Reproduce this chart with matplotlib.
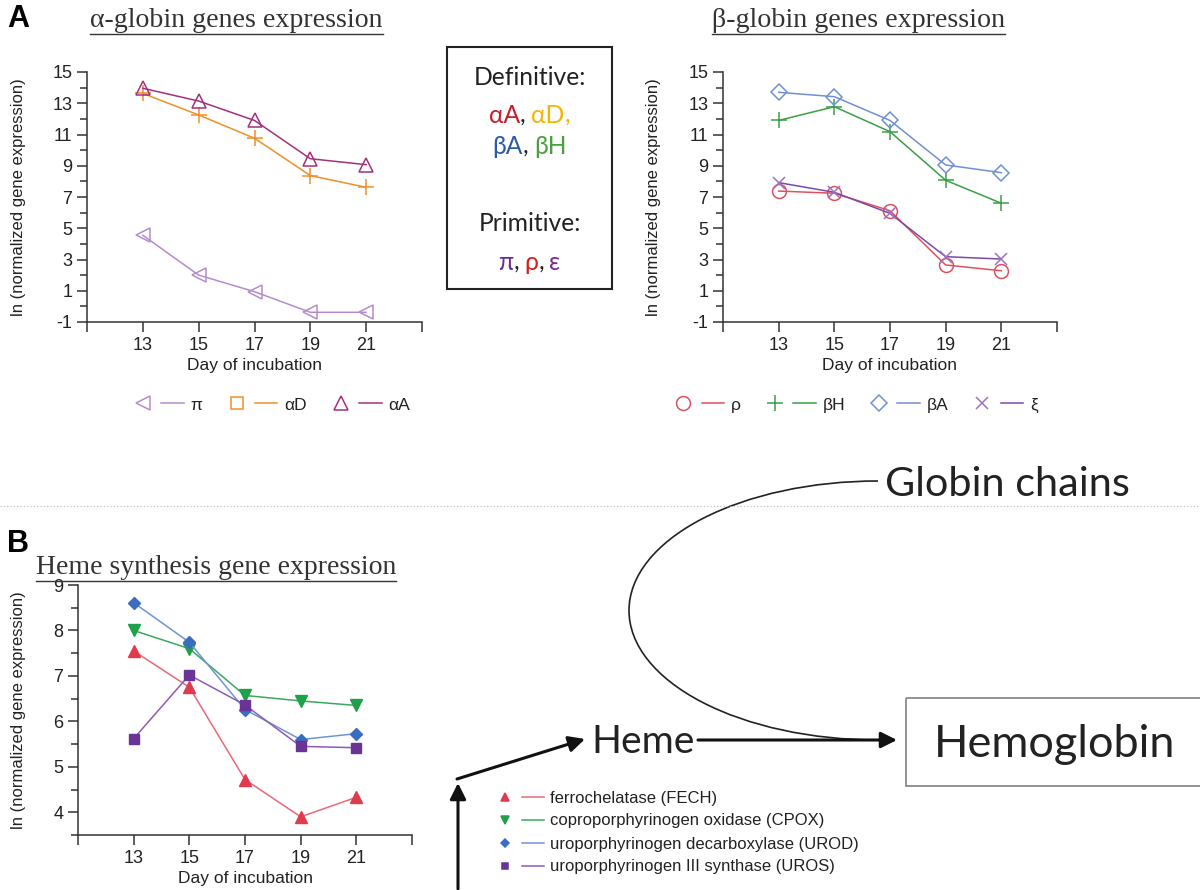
import matplotlib
matplotlib.use('Agg')
import matplotlib.pyplot as plt
from matplotlib.lines import Line2D
from matplotlib.legend_handler import HandlerTuple
from matplotlib.patches import Arc, Rectangle
from matplotlib.ticker import MultipleLocator

days = [13, 15, 17, 19, 21]

# alpha-globin genes
alpha_labels = ['π', 'αD', 'αA']
pi_vals = [4.55, 2.0, 0.94, -0.38, -0.38]
aD_vals = [13.63, 12.25, 10.76, 8.37, 7.62]
aA_vals = [13.96, 13.14, 11.9, 9.45, 9.07]

# beta-globin genes
beta_labels = ['ρ', 'βH', 'βA', 'ξ']
rho_vals = [7.38, 7.24, 6.12, 2.65, 2.28]
bH_vals = [11.9, 12.78, 11.18, 8.07, 6.6]
bA_vals = [13.7, 13.42, 11.9, 9.05, 8.56]
xi_vals = [7.92, 7.3, 5.95, 3.18, 3.03]

# heme synthesis genes
heme_labels = ['ferrochelatase (FECH)', 'coproporphyrinogen oxidase (CPOX)',
               'uroporphyrinogen decarboxylase (UROD)', 'uroporphyrinogen III synthase (UROS)']
fech_vals = [7.55, 6.75, 4.72, 3.9, 4.33]
cpox_vals = [8.0, 7.6, 6.57, 6.45, 6.35]
urod_vals = [8.61, 7.74, 6.26, 5.6, 5.73]
uros_vals = [5.62, 7.02, 6.36, 5.45, 5.42]

W, H = 1200, 890
plt.rcParams['font.family'] = ['Liberation Sans', 'DejaVu Sans']
plt.rcParams['axes.unicode_minus'] = False
fig = plt.figure(figsize=(W / 100, H / 100), dpi=100)
TXT = '#222222'
AX = '#333333'
SANS2 = ['Lato', 'DejaVu Sans']


def px_axes(x0, y0, x1, y1):
    return fig.add_axes([x0 / W, 1 - y1 / H, (x1 - x0) / W, (y1 - y0) / H])


def style_axes(ax, ylim, major, minor, ylab_x):
    for s in ['top', 'right']:
        ax.spines[s].set_visible(False)
    for s in ['left', 'bottom']:
        ax.spines[s].set_color(AX)
        ax.spines[s].set_linewidth(1.1)
    ax.patch.set_alpha(0)
    ax.set_xlim(11, 23)
    ax.set_xticks(range(11, 24, 2))
    ax.set_xticklabels([''] + [str(d) for d in days] + [''])
    ax.set_ylim(*ylim)
    ax.yaxis.set_major_locator(MultipleLocator(major))
    ax.yaxis.set_minor_locator(MultipleLocator(minor))
    ax.tick_params(direction='out', length=7, width=1.1, colors=AX, labelsize=13, labelcolor=TXT)
    ax.tick_params(which='minor', direction='out', length=5, width=1.1, colors=AX)
    ax.set_xlabel('Day of incubation', fontsize=12.5, color=TXT, labelpad=3)
    ax.set_ylabel('ln (normalized gene expression)', fontsize=12, color=TXT)
    ax.yaxis.set_label_coords(ylab_x, 0.5)


def open_line(ax, vals, marker, color, ms=10, mcolor=None):
    ax.plot(days, vals, color=color, lw=1.1, marker=marker, ms=ms, mfc='none',
            mec=mcolor or color, mew=1.1, clip_on=False)


# ---- panel A, alpha
axa = px_axes(87, 72, 422, 322)
style_axes(axa, (-1, 15), 2, 1, -0.182)
axa.set_yticks(range(-1, 16, 2))
c_pi, c_aD, c_aA = '#b48ccc', '#f0902a', '#a3307d'
open_line(axa, pi_vals, '<', c_pi)
open_line(axa, aD_vals, '+', c_aD, ms=11)
open_line(axa, aA_vals, '^', c_aA)

# ---- panel A, beta
axb = px_axes(723, 72, 1057, 322)
style_axes(axb, (-1, 15), 2, 1, -0.185)
axb.set_yticks(range(-1, 16, 2))
c_rho, c_bH, c_bA, c_xi = '#e0505e', '#38a048', '#7090d4', '#7a4aa8'
open_line(axb, rho_vals, 'o', c_rho)
open_line(axb, bH_vals, '+', c_bH, ms=11)
open_line(axb, bA_vals, 'D', c_bA, ms=8)
open_line(axb, xi_vals, 'x', c_xi, ms=8, mcolor='#9a72c4')

# ---- panel B
axh = px_axes(78, 585, 412, 835)
style_axes(axh, (3.5, 9), 1, 0.5, -0.156)
h_cols = [('#e03a4e', '#ea6878'), ('#1fa04a', '#3aa860'), ('#3a6cc4', '#6f94d6'), ('#6a3496', '#8c5ab8')]
h_marks = [('^', 8), ('v', 8), ('D', 6.5), ('s', 6.5)]
for vals, (mc, lc), (mk, ms) in zip([fech_vals, cpox_vals, urod_vals, uros_vals], h_cols, h_marks):
    axh.plot(days, vals, color=lc, lw=1.1, marker=mk, ms=ms, mfc=mc, mec=mc, clip_on=False)


def mk_handle(marker, color, lcolor=None, ms=10, filled=False):
    m = Line2D([], [], ls='none', marker=marker, ms=ms, mew=1.1,
               mfc=color if filled else 'none', mec=color)
    l = Line2D([], [], color=lcolor or color, lw=1.1)
    return (m, l)


hmap = {tuple: HandlerTuple(ndivide=None, pad=0.4)}
a_handles = [mk_handle('<', c_pi), mk_handle('s', c_aD, ms=8), mk_handle('^', c_aA)]
fig.legend(a_handles, alpha_labels, loc='center', bbox_to_anchor=(271 / W, 1 - 405 / H),
           ncol=3, frameon=False, fontsize=12.5, labelcolor=TXT, handler_map=hmap,
           handlelength=3.0, handletextpad=0.4, columnspacing=1.3)
b_handles = [mk_handle('o', c_rho), mk_handle('+', c_bH, ms=11), mk_handle('D', c_bA, ms=8),
             mk_handle('x', '#9a72c4', c_xi, ms=8)]
fig.legend(b_handles, beta_labels, loc='center', bbox_to_anchor=(855 / W, 1 - 405 / H),
           ncol=4, frameon=False, fontsize=12.5, labelcolor=TXT, handler_map=hmap,
           handlelength=3.0, handletextpad=0.4, columnspacing=1.3)
h_handles = [mk_handle(mk, mc, lc, ms=ms * 0.7, filled=True) for (mk, ms), (mc, lc) in zip(h_marks, h_cols)]
fig.legend(h_handles, heme_labels, loc='center left', bbox_to_anchor=(494 / W, 1 - 832.5 / H),
           ncol=1, frameon=False, labelcolor=TXT, handler_map=hmap,
           prop={'family': ['Liberation Sans Narrow', 'Liberation Sans'], 'size': 12},
           handlelength=3.0, handletextpad=0.35, labelspacing=0.48, borderpad=0, borderaxespad=0)

# ---- overlay in pixel coordinates for titles and diagram
ov = fig.add_axes([0, 0, 1, 1])
ov.set_xlim(0, W)
ov.set_ylim(H, 0)
ov.axis('off')
ov.patch.set_alpha(0)

fig.canvas.draw()
rend = fig.canvas.get_renderer()


def fit_width(t, width):
    bb = t.get_window_extent(renderer=rend)
    t.set_fontsize(t.get_fontsize() * width / bb.width)
    return t


def underline(t):
    bb = t.get_window_extent(renderer=rend)
    y = H - bb.y0 + 0.5
    ov.plot([bb.x0, bb.x1], [y, y], color=AX, lw=1.0)


ov.text(7, 27, 'A', fontsize=22, fontweight='bold', color='black', va='baseline')
ov.text(7, 552, 'B', fontsize=22, fontweight='bold', color='black', va='baseline')

for x, y, s, w in [(90, 27, 'α-globin genes expression', 293),
                   (712, 27, 'β-globin genes expression', 293),
                   (36, 574, 'Heme synthesis gene expression', 361)]:
    t = ov.text(x, y, s, fontsize=18, family='Liberation Serif', color=AX, va='baseline')
    fit_width(t, w)
    underline(t)

# definitive / primitive box
ov.add_patch(Rectangle((446.7, 47.3), 165.6, 241.7, fill=False, ec=TXT, lw=1.5))
t = ov.text(529.5, 85, 'Definitive:', fontsize=16, family=SANS2, color=TXT, ha='center', va='baseline')
fit_width(t, 113)
box_fs = t.get_fontsize()
ov.text(529.5, 231, 'Primitive:', fontsize=box_fs, family=SANS2, color=TXT, ha='center', va='baseline')


def colored_line(cx, y, pieces):
    space = box_fs * 100 / 72 * 0.22
    widths = []
    for s, c in pieces:
        if s == ' ':
            widths.append(space)
        else:
            tt = ov.text(0, y, s, fontsize=box_fs, family=SANS2)
            widths.append(tt.get_window_extent(renderer=rend).width)
            tt.remove()
    x = cx - sum(widths) / 2
    for (s, c), w in zip(pieces, widths):
        if s != ' ':
            ov.text(x, y, s, fontsize=box_fs, family=SANS2, color=c, va='baseline')
        x += w


colored_line(529.5, 123, [('αA', '#c41e2a'), (',', TXT), (' ', None), ('αD', '#f5b400'), (',', '#f5b400')])
colored_line(529.5, 154, [('βA', '#2a5aa8'), (',', TXT), (' ', None), ('βH', '#4aa040')])
colored_line(529.5, 270, [('π', '#6a2c9a'), (',', TXT), (' ', None), ('ρ', '#d42020'), (',', TXT),
                          (' ', None), ('ε', '#7a2a9a')])

# separator
ov.plot([0, W], [506, 506], ls=(0, (1, 2)), color='#bbbbbb', lw=0.8)

# diagram
t = ov.text(885, 496, 'Globin chains', fontsize=28, family=SANS2, color=TXT, va='baseline')
fit_width(t, 245)
t = ov.text(591, 752.7, 'Heme', fontsize=28, family=SANS2, color=TXT, va='baseline')
fit_width(t, 103)
ov.add_patch(Rectangle((905.7, 698), 296, 88, fill=False, ec='#8a8a8a', lw=1.3))
t = ov.text(934, 757, 'Hemoglobin', fontsize=34, family=SANS2, color=TXT, va='baseline')
fit_width(t, 243)

ov.add_patch(Arc((878, 610.5), 2 * 249, 2 * 129.5, theta1=90, theta2=270, color=TXT, lw=1.2))
arrow = dict(arrowstyle='-|>', color='#111111', lw=2.2, mutation_scale=24, shrinkA=0, shrinkB=0)
ov.annotate('', xy=(897, 740), xytext=(698, 740), arrowprops=arrow)
ov.annotate('', xy=(585, 739), xytext=(457, 779), arrowprops=arrow)
ov.annotate('', xy=(458, 783), xytext=(458, 889), arrowprops=arrow)

fig.savefig('out.png', dpi=100)
